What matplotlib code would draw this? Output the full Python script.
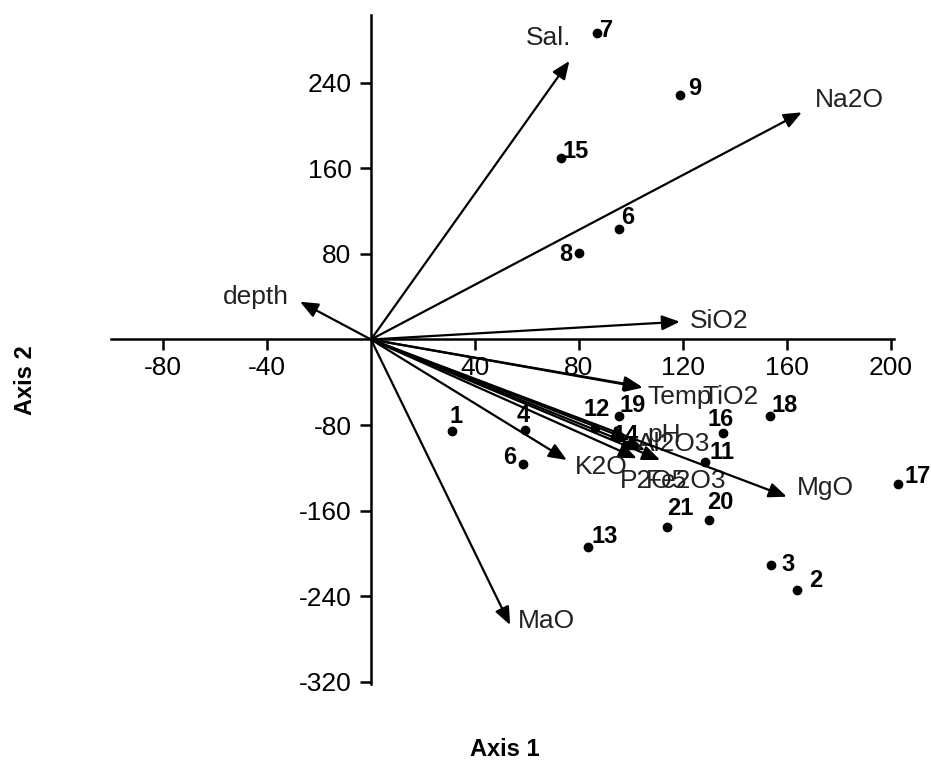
import matplotlib
matplotlib.use("Agg")
import matplotlib.pyplot as plt

plt.rcParams['font.family'] = ['Liberation Sans', 'DejaVu Sans']

# ---- data ----
site_labels = ['7', '9', '15', '6', '8', '1', '4', '6', '12', '19', '14',
               '16', '18', '11', '21', '20', '13', '3', '2', '17']
site_x = [86.8, 118.8, 73.1, 95.4, 80.0, 31.0, 59.2, 58.3, 86.2, 95.5, 98.0,
          135.5, 153.5, 128.5, 113.7, 130.0, 83.6, 153.8, 163.7, 202.8]
site_y = [286.2, 228.5, 169.9, 103.0, 80.6, -85.2, -84.6, -116.6, -82.7, -71.5, -98.6,
          -87.1, -71.5, -114.2, -175.0, -168.7, -194.2, -210.7, -234.1, -135.3]

var_labels = ['Sal.', 'Na2O', 'SiO2', 'depth', 'Temp', 'TiO2', 'pH', 'Al2O3',
              'P2O5', 'Fe2O3', 'K2O', 'MgO', 'MaO']
var_x = [76.3, 165.7, 118.8, -27.3, 104.1, 104.5, 99.6, 105.4,
         102.2, 111.2, 75.3, 159.9, 53.5]
var_y = [260.3, 212.3, 16.6, 35.3, -44.1, -45.0, -93.9, -103.3,
         -111.0, -112.6, -112.6, -146.9, -266.8]

x_ticks = [-80, -40, 40, 80, 120, 160, 200]
y_ticks = [240, 160, 80, -80, -160, -240, -320]

# ---- label placement (pixel offsets) ----
site_off = [(10, 3), (15, 7), (15, 6), (9, 12), (-13, -1), (4, 14), (-2, 15), (-13, 7),
            (2, 18), (13, 11), (0, 10), (-3, 13), (15, 11), (17, 9), (14, 18), (11, 18),
            (16, 11), (17, 0), (19, 9), (19, 8)]
var_off = [(-21, 23, 'center'), (13, 12, 'left'), (10, 1, 'left'), (-44, 5, 'center'),
           (6, -10, 'left'), (60, -9, 'left'), (17, 5, 'left'), (-8, 6, 'left'),
           (-17, -23, 'left'), (-14, -21, 'left'), (8, -7, 'left'), (10, 9, 'left'),
           (8, 4, 'left')]

W, H = 931, 781
fig = plt.figure(figsize=(W / 100, H / 100), dpi=100)
ox, oy, sx, sy = 371.0, 339.5, 2.6, 1.07
xmin, xmax, ymin, ymax = -104, 215, -330, 315
left_px = ox + xmin * sx
ax = fig.add_axes([left_px / W, (H - (oy - ymin * sy)) / H,
                   (xmax - xmin) * sx / W, (ymax - ymin) * sy / H])
ax.set_xlim(xmin, xmax)
ax.set_ylim(ymin, ymax)

for s in ['top', 'right']:
    ax.spines[s].set_visible(False)
ax.spines['left'].set_position(('data', 0))
ax.spines['bottom'].set_position(('data', 0))
ax.spines['left'].set_bounds(-322, 303)
ax.spines['bottom'].set_bounds(-100, 201)
for s in ['left', 'bottom']:
    ax.spines[s].set_linewidth(1.8)

ax.set_xticks(x_ticks)
ax.set_xticklabels([str(v) for v in x_ticks])
ax.set_yticks(y_ticks)
ax.set_yticklabels([str(v) for v in y_ticks])
ax.tick_params(axis='both', direction='out', length=8, width=1.8,
               labelsize=19, colors='black')
ax.tick_params(axis='x', pad=4)
ax.tick_params(axis='y', pad=6)
ax.set_facecolor('none')

# arrows
for lab, x, y, (dx, dy, ha) in zip(var_labels, var_x, var_y, var_off):
    ax.annotate('', xy=(x, y), xytext=(0, 0), xycoords='data', textcoords='data',
                arrowprops=dict(arrowstyle='-|>,head_length=0.6,head_width=0.25',
                                lw=1.6, color='black', mutation_scale=18,
                                shrinkA=0, shrinkB=0))
    ax.annotate(lab, xy=(x, y), xytext=(dx, dy), textcoords='offset pixels',
                ha=ha, va='center', fontsize=19, color='#222222')

# sites
ax.plot(site_x, site_y, 'o', color='black', markersize=6, linestyle='none')
for lab, x, y, (dx, dy) in zip(site_labels, site_x, site_y, site_off):
    ax.annotate(lab, xy=(x, y), xytext=(dx, dy), textcoords='offset pixels',
                ha='center', va='center', fontsize=17, fontweight='bold',
                color='black')

fig.text(505 / W, 1 - 750 / H, 'Axis 1', ha='center', va='center',
         fontsize=17, fontweight='bold')
fig.text(25 / W, 1 - 380 / H, 'Axis 2', ha='center', va='center',
         fontsize=17, fontweight='bold', rotation=90)

fig.savefig('out.png', dpi=100)
